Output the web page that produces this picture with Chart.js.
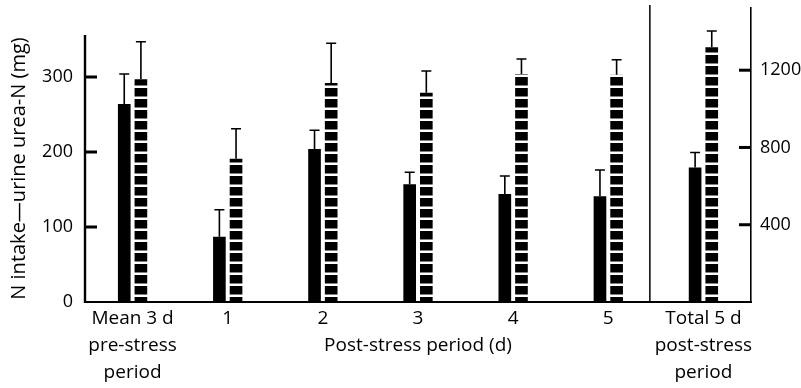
<!DOCTYPE html>
<html>
<head>
<meta charset="utf-8">
<script src="https://cdn.jsdelivr.net/npm/chart.js@4.4.1/dist/chart.umd.min.js"></script>
<style>
  html, body { margin: 0; padding: 0; background: #fff; }
</style>
</head>
<body>
<canvas id="nChart" width="801" height="388"></canvas>
<script>
// categories (multi-line tick labels); the middle title rides on day 3
const labels = [
  ['Mean 3 d', 'pre-stress', 'period'],
  '1', '2', ['3', 'Post-stress period (d)'], '4', '5',
  ['Total 5 d', 'post-stress', 'period']
];

// per-day values, left axis (mg)
const solidDaily     = [264, 87, 204, 157, 144, 141, null];
const solidDailyErr  = [40, 36, 25, 16, 24, 35, null];
const hatchDaily     = [297, 191, 292, 279, 304, 303, null];
const hatchDailyErr  = [50, 40, 53, 29, 20, 20, null];

// 5-day totals, right axis (mg)
const solidTotal     = [null, null, null, null, null, null, 696];
const solidTotalErr  = [null, null, null, null, null, null, 78];
const hatchTotal     = [null, null, null, null, null, null, 1319];
const hatchTotalErr  = [null, null, null, null, null, null, 84];

const leftTicks  = [0, 100, 200, 300];
const rightTicks = [400, 800, 1200];
const leftAxisTop = 356;   // where the drawn left axis line stops
const yTitle = 'N intake\u2014urine urea-N (mg)';

const FONT = "'Open Sans', 'DejaVu Sans', sans-serif";

function makeStripes() {
  const c = document.createElement('canvas');
  c.width = 12;
  c.height = 11;
  const g = c.getContext('2d');
  g.fillStyle = '#000';
  g.fillRect(0, 0, 12, 8.5);
  return g.createPattern(c, 'repeat');
}
const stripes = makeStripes();

// upper error bars + inward tick marks + axis lines + y title
const extras = {
  id: 'extras',
  afterDraw(chart) {
    const ctx = chart.ctx;
    const x = chart.scales.x, y = chart.scales.y, y2 = chart.scales.y2;
    const area = chart.chartArea;
    ctx.save();
    ctx.strokeStyle = '#000';
    ctx.fillStyle = '#000';

    // error bars
    ctx.lineWidth = 1.6;
    chart.data.datasets.forEach((ds, i) => {
      const meta = chart.getDatasetMeta(i);
      const sc = chart.scales[ds.yAxisID];
      meta.data.forEach((el, j) => {
        const v = ds.data[j], e = ds.errors[j];
        if (v == null || e == null) return;
        const top = sc.getPixelForValue(v + e);
        ctx.beginPath();
        ctx.moveTo(el.x, el.y);
        ctx.lineTo(el.x, top);
        ctx.moveTo(el.x - 5, top);
        ctx.lineTo(el.x + 5, top);
        ctx.stroke();
      });
    });

    // left axis line (stops short of the top)
    ctx.lineWidth = 2.4;
    ctx.beginPath();
    ctx.moveTo(area.left, y.getPixelForValue(0) + 1);
    ctx.lineTo(area.left, y.getPixelForValue(leftAxisTop));
    ctx.stroke();

    // inward ticks
    leftTicks.filter(t => t > 0).forEach(t => {
      const py = y.getPixelForValue(t);
      ctx.fillRect(area.left, py - 1.5, 12, 3);
    });
    rightTicks.forEach(t => {
      const py = y2.getPixelForValue(t);
      ctx.fillRect(area.right - 12, py - 1.5, 12, 3);
    });

    // separator between daily and total panels
    const sx = (x.getPixelForTick(5) + x.getPixelForTick(6)) / 2 - 6;
    ctx.lineWidth = 1.5;
    ctx.beginPath();
    ctx.moveTo(sx, area.top - 3);
    ctx.lineTo(sx, area.bottom);
    ctx.stroke();

    // y axis title
    const cy = (y.getPixelForValue(0) + y.getPixelForValue(leftAxisTop)) / 2;
    ctx.translate(19, cy);
    ctx.rotate(-Math.PI / 2);
    ctx.font = '20px ' + FONT;
    ctx.textAlign = 'center';
    ctx.textBaseline = 'middle';
    ctx.fillText(yTitle, 0, 0);
    ctx.restore();
  }
};

const data = {
  labels: labels,
  datasets: [
    { data: solidDaily, errors: solidDailyErr, yAxisID: 'y', backgroundColor: '#000' },
    { data: hatchDaily, errors: hatchDailyErr, yAxisID: 'y', backgroundColor: stripes },
    { data: solidTotal, errors: solidTotalErr, yAxisID: 'y2', backgroundColor: '#000' },
    { data: hatchTotal, errors: hatchTotalErr, yAxisID: 'y2', backgroundColor: stripes }
  ]
};

const config = {
  type: 'bar',
  data,
  plugins: [extras],
  options: {
    responsive: false,
    animation: false,
    devicePixelRatio: 1,
    layout: { padding: { top: 8, left: 0, right: 0, bottom: 0 } },
    datasets: {
      bar: { skipNull: true, categoryPercentage: 0.35, barPercentage: 0.76, borderWidth: 0 }
    },
    plugins: { legend: { display: false }, tooltip: { enabled: false } },
    scales: {
      x: {
        grid: { display: false, drawTicks: false },
        border: { display: true, color: '#000', width: 2 },
        ticks: {
          color: '#000', padding: 3, maxRotation: 0, autoSkip: false,
          font: { family: FONT, size: 19, lineHeight: 1.42 }
        },
        afterFit(s) { s.height = 86; }
      },
      y: {
        position: 'left',
        min: 0, max: 392,
        grid: { display: false, drawTicks: false },
        border: { display: false },
        ticks: {
          color: '#000', padding: 12,
          font: { family: FONT, size: 18 },
          callback: v => String(v)
        },
        afterBuildTicks(s) { s.ticks = leftTicks.map(v => ({ value: v })); },
        afterFit(s) { s.width = 85; s.paddingTop = 0; s.paddingBottom = 0; }
      },
      y2: {
        position: 'right',
        min: 0, max: 1522,
        grid: { display: false, drawTicks: false },
        border: { display: true, color: '#000', width: 1.6 },
        ticks: {
          color: '#000', padding: 9,
          font: { family: FONT, size: 18 },
          callback: v => String(v)
        },
        afterBuildTicks(s) { s.ticks = rightTicks.map(v => ({ value: v })); },
        afterFit(s) { s.width = 50; s.paddingTop = 0; s.paddingBottom = 0; }
      }
    }
  }
};

new Chart(document.getElementById('nChart'), config);
</script>
</body>
</html>
